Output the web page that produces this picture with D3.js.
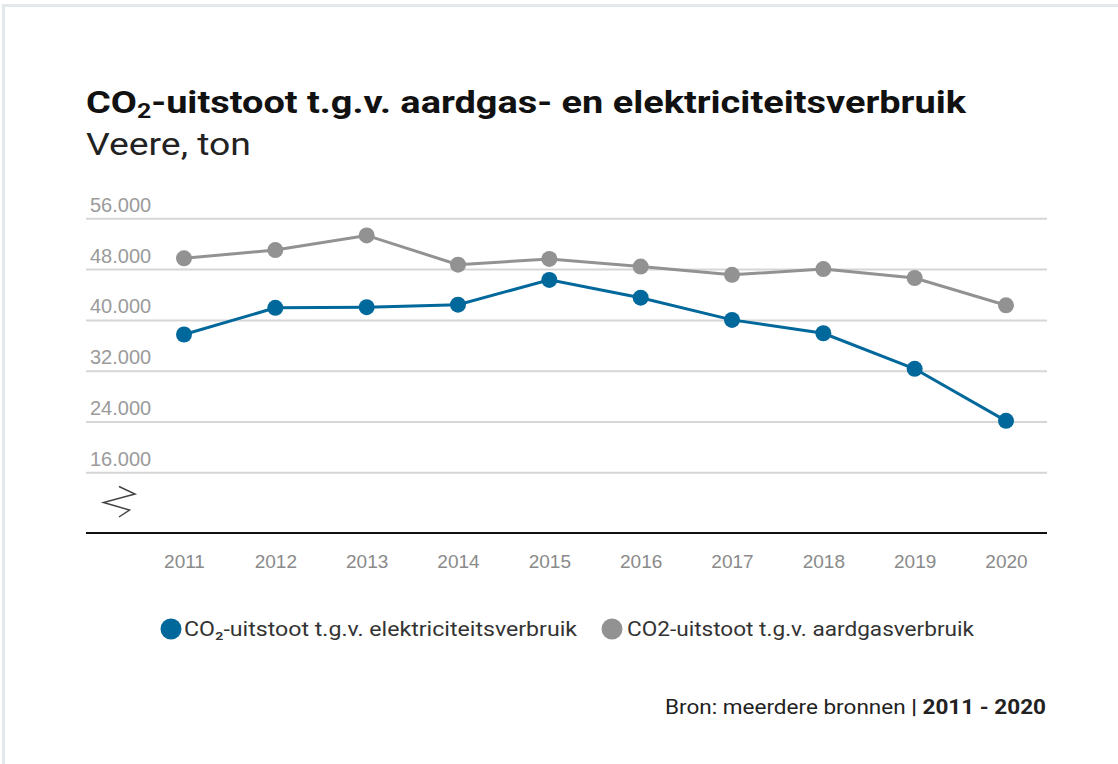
<!DOCTYPE html>
<html lang="nl">
<head>
<meta charset="utf-8">
<title>CO2-uitstoot Veere</title>
<script src="https://d3js.org/d3.v7.min.js"></script>
<style>
  body {
    margin: 0;
    background: #fff;
    font-family: Roboto, 'Open Sans', sans-serif;
  }
  .grid line {
    stroke: #d6d6d6;
    stroke-width: 2px;
  }
  .grid text {
    fill: #9b9b9b;
    font-size: 20px;
  }
  .xaxis text {
    fill: #8a8a8a;
    font-size: 19px;
  }
  .line {
    fill: none;
    stroke-width: 3px;
  }
</style>
</head>
<body>
<svg id="chart" width="1118" height="764"></svg>
<script>
// data
var years = ["2011", "2012", "2013", "2014", "2015", "2016", "2017", "2018", "2019", "2020"];
var elektriciteit = [37700, 41900, 42000, 42400, 46300, 43500, 40000, 37900, 32300, 24100];
var aardgas = [49700, 51000, 53300, 48700, 49600, 48400, 47100, 48000, 46600, 42300];
var yTicks = [16000, 24000, 32000, 40000, 48000, 56000];
var seriesNames = ["CO\u2082-uitstoot t.g.v. elektriciteitsverbruik", "CO2-uitstoot t.g.v. aardgasverbruik"];
var seriesColors = ["#01689b", "#929292"];

var svg = d3.select("#chart");

// card
svg.append("rect")
  .attr("x", 3.5).attr("y", 5.5)
  .attr("width", 1130).attr("height", 780)
  .attr("fill", "#fff")
  .attr("stroke", "#e3e9eb")
  .attr("stroke-width", 3);

// title
var title = svg.append("text")
  .attr("x", 86).attr("y", 113)
  .attr("font-size", 32)
  .attr("font-weight", "bold")
  .attr("fill", "#111");
title.append("tspan").text("CO");
title.append("tspan").attr("font-size", 21).attr("dy", 5).text("2");
title.append("tspan").attr("dy", -5).text("-uitstoot t.g.v. aardgas- en elektriciteitsverbruik");
title.attr("textLength", 880).attr("lengthAdjust", "spacingAndGlyphs");

svg.append("text")
  .attr("x", 86).attr("y", 155)
  .attr("font-size", 31)
  .attr("fill", "#222")
  .attr("textLength", 165)
  .attr("lengthAdjust", "spacingAndGlyphs")
  .text("Veere, ton");

var left = 86, right = 1047, baseY = 533;

var x = d3.scalePoint()
  .domain(years)
  .range([184, 1006]);

var y = d3.scaleLinear()
  .domain([16000, 56000])
  .range([472.3, 218.3]);

var nl = d3.formatLocale({ decimal: ",", thousands: ".", grouping: [3], currency: ["€", ""] });
var fmt = nl.format(",");

// gridlines + labels
var grid = svg.append("g")
  .attr("class", "grid")
  .attr("transform", "translate(" + left + ",0)")
  .call(d3.axisRight(y).tickValues(yTicks).tickSize(right - left).tickFormat(fmt));
grid.select(".domain").remove();
grid.selectAll("text")
  .attr("x", 4)
  .attr("dy", -7)
  .attr("text-anchor", "start");

// x axis
var xAxis = svg.append("g")
  .attr("class", "xaxis")
  .attr("transform", "translate(0," + baseY + ")")
  .call(d3.axisBottom(x).tickSize(0).tickPadding(22));
xAxis.select(".domain").remove();

svg.append("line")
  .attr("x1", left).attr("x2", right)
  .attr("y1", baseY).attr("y2", baseY)
  .attr("stroke", "#111")
  .attr("stroke-width", 2);

// axis break mark
svg.append("path")
  .attr("d", "M119,486.5L135,494L103.5,502.5L129.5,510L119,517")
  .attr("fill", "none")
  .attr("stroke", "#444")
  .attr("stroke-width", 1.5);

var line = d3.line()
  .x(function(d, i) { return x(years[i]); })
  .y(function(d) { return y(d); });

[aardgas, elektriciteit].forEach(function(vals, k) {
  var c = k === 0 ? seriesColors[1] : seriesColors[0];
  svg.append("path")
    .datum(vals)
    .attr("class", "line")
    .attr("stroke", c)
    .attr("d", line);
  svg.append("g").selectAll("circle")
    .data(vals)
    .enter().append("circle")
    .attr("cx", function(d, i) { return x(years[i]); })
    .attr("cy", function(d) { return y(d); })
    .attr("r", 8)
    .attr("fill", c);
});

// legend
var legendPos = [{ cx: 171, tx: 184, w: 393 }, { cx: 612, tx: 627, w: 347 }];
seriesNames.forEach(function(name, i) {
  svg.append("circle")
    .attr("cx", legendPos[i].cx).attr("cy", 629)
    .attr("r", 10.5)
    .attr("fill", seriesColors[i]);
  svg.append("text")
    .attr("x", legendPos[i].tx).attr("y", 636)
    .attr("font-size", 20)
    .attr("fill", "#333")
    .attr("textLength", legendPos[i].w)
    .attr("lengthAdjust", "spacingAndGlyphs")
    .text(name);
});

// source
var src = svg.append("text")
  .attr("x", 1046).attr("y", 714)
  .attr("text-anchor", "end")
  .attr("font-size", 20)
  .attr("fill", "#222")
  .attr("textLength", 381)
  .attr("lengthAdjust", "spacingAndGlyphs");
src.append("tspan").text("Bron: meerdere bronnen ");
src.append("tspan").attr("font-weight", "bold").text("| 2011 - 2020");
</script>
</body>
</html>
